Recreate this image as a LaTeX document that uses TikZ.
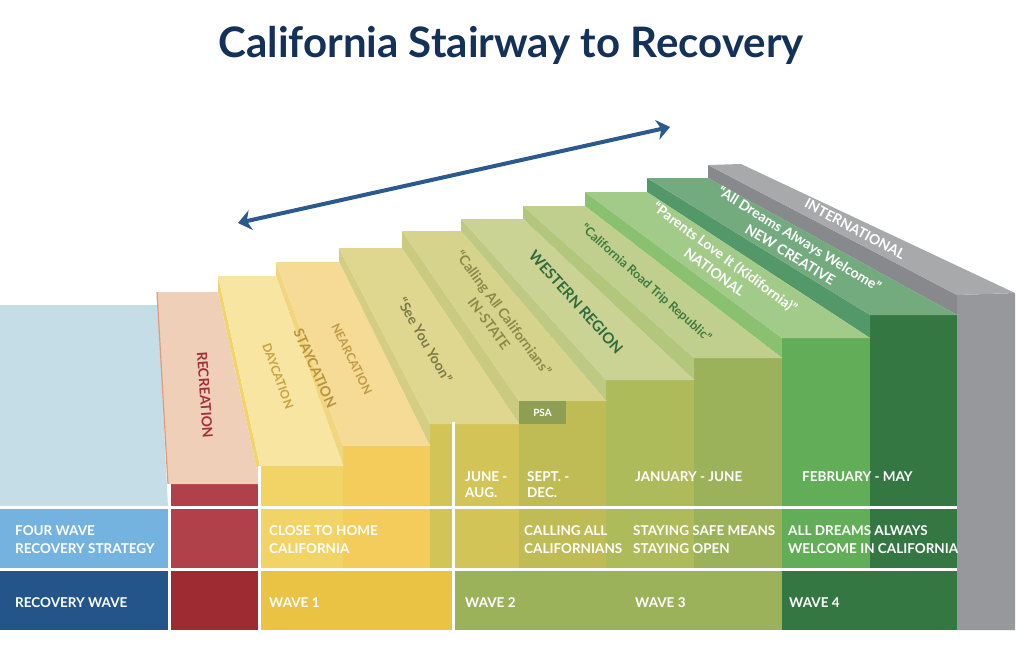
\documentclass[tikz,border=0pt]{standalone}
\usepackage{fontspec}
\setmainfont{Lato}
\usepackage{xcolor}
\usetikzlibrary{arrows.meta}

% colours
\definecolor{titleblue}{HTML}{14315A}
\definecolor{arrowblue}{HTML}{2A5A8E}
\definecolor{floorblue}{HTML}{C4DDE6}
\definecolor{stratblue}{HTML}{74B3E0}
\definecolor{wavenavy}{HTML}{23558A}
\definecolor{recred}{HTML}{B0414A}
\definecolor{recdark}{HTML}{9E2B31}
\definecolor{recedge}{HTML}{E0997A}
\definecolor{wavegold}{HTML}{EAC244}
\definecolor{waveolive}{HTML}{9CB25A}
\definecolor{wavegreen}{HTML}{357743}
\definecolor{intgray}{HTML}{97989C}
\definecolor{psagreen}{HTML}{8E9E52}
\definecolor{frontA}{HTML}{F2D366}
\definecolor{frontB}{HTML}{F3CC5C}
\definecolor{frontC}{HTML}{D2C456}
\definecolor{frontD}{HTML}{BFBB55}
\definecolor{frontE}{HTML}{AEBB5A}
\definecolor{frontF}{HTML}{62AD57}
\definecolor{treadA}{HTML}{EFCFB7}
\definecolor{treadB}{HTML}{F8E5A2}
\definecolor{treadC}{HTML}{F5DB96}
\definecolor{treadD}{HTML}{DFD78F}
\definecolor{treadE}{HTML}{D6D38C}
\definecolor{treadF}{HTML}{CAD394}
\definecolor{treadG}{HTML}{C0CE8E}
\definecolor{treadH}{HTML}{A2CB89}
\definecolor{treadI}{HTML}{73AB7F}
\definecolor{treadJ}{HTML}{A8A9AB}
\definecolor{sideA}{HTML}{F2D46C}
\definecolor{sideB}{HTML}{F1D57F}
\definecolor{sideC}{HTML}{D4CE82}
\definecolor{sideD}{HTML}{CACA80}
\definecolor{sideE}{HTML}{BEC983}
\definecolor{sideF}{HTML}{B2C77C}
\definecolor{sideG}{HTML}{89C170}
\definecolor{sideH}{HTML}{539868}
\definecolor{sideI}{HTML}{88898C}
\definecolor{rectext}{HTML}{A3303D}
\definecolor{daytext}{HTML}{C9A13F}
\definecolor{staytext}{HTML}{B8943F}
\definecolor{neartext}{HTML}{C09B46}
\definecolor{yoontext}{HTML}{7D7B45}
\definecolor{calltext}{HTML}{8B8A4B}
\definecolor{westtext}{HTML}{2F6B3C}
\definecolor{roadtext}{HTML}{3F7B40}

\begin{document}
\begin{tikzpicture}[x=1pt,y=-1pt,
    rowtext/.style={anchor=west,align=left,text=white,inner sep=0pt,font=\bfseries\fontsize{13.5}{17.5}\selectfont},
    datetext/.style={rowtext,font=\bfseries\fontsize{13.5}{16}\selectfont},
    steptext/.style={align=center,inner sep=0pt,font=\bfseries\fontsize{14}{18}\selectfont}]
    \useasboundingbox (0,0) rectangle (1024,655);

    % Title and arrow
    \node[text=titleblue,font=\bfseries\fontsize{42}{42}\selectfont,anchor=base] (title) at (511,58) {California Stairway to Recovery};
    \coordinate (arrowL) at (238,223);
    \coordinate (arrowR) at (670,127);
    \draw[arrowblue,line width=4pt,{Stealth[length=13pt,width=20pt,inset=4pt]}-{Stealth[length=13pt,width=20pt,inset=4pt]}] (arrowL) -- (arrowR);

    % Floor and left column
    \fill[floorblue] (0,305) -- (158,305) -- (168,507) -- (0,507) -- cycle;
    \fill[stratblue] (0,507) rectangle (169,570);
    \fill[wavenavy] (0,570) rectangle (169,630);

    % Step fronts
    \fill[recred] (168,484) rectangle (260,630);
    \fill[frontA] (260,466) rectangle (343,630);
    \fill[frontB] (343,446) rectangle (430,630);
    \fill[frontC] (430,424) rectangle (519,630);
    \fill[frontD] (519,401) rectangle (606,630);
    \fill[frontE] (606,380) rectangle (694,630);
    \fill[waveolive] (694,358) rectangle (782,630);
    \fill[frontF] (782,338) rectangle (870,630);
    \fill[wavegreen] (870,315) rectangle (957,630);
    \fill[intgray] (957,295) -- (1015,293) -- (1015,630) -- (957,630) -- cycle;

    % Step sides
    \fill[sideA] (218,292) -- (218,276) -- (260,466) -- (260,484) -- cycle;
    \fill[sideB] (276,276) -- (276,262) -- (343,446) -- (343,466) -- cycle;
    \fill[sideC] (339,262) -- (339,248) -- (430,424) -- (430,446) -- cycle;
    \fill[sideD] (402,248) -- (402,231) -- (519,401) -- (519,424) -- cycle;
    \fill[sideE] (461,231) -- (461,219) -- (606,380) -- (606,401) -- cycle;
    \fill[sideF] (523,219) -- (523,206) -- (694,358) -- (694,380) -- cycle;
    \fill[sideG] (585,206) -- (585,192) -- (782,338) -- (782,358) -- cycle;
    \fill[sideH] (647,192) -- (647,178) -- (870,315) -- (870,338) -- cycle;
    \fill[sideI] (708,178) -- (708,165) -- (957,295) -- (957,315) -- cycle;

    % Step treads
    \fill[treadA] (157,292) -- (218,292) -- (260,484) -- (168,484) -- cycle;
    \fill[treadB] (218,276) -- (276,276) -- (343,466) -- (260,466) -- cycle;
    \fill[treadC] (276,262) -- (339,262) -- (430,446) -- (343,446) -- cycle;
    \fill[treadD] (339,248) -- (402,248) -- (519,424) -- (430,424) -- cycle;
    \fill[treadE] (402,231) -- (461,231) -- (606,401) -- (519,401) -- cycle;
    \fill[treadF] (461,219) -- (523,219) -- (694,380) -- (606,380) -- cycle;
    \fill[treadG] (523,206) -- (585,206) -- (782,358) -- (694,358) -- cycle;
    \fill[treadH] (585,192) -- (647,192) -- (870,338) -- (782,338) -- cycle;
    \fill[treadI] (647,178) -- (708,178) -- (957,315) -- (870,315) -- cycle;
    \fill[treadJ] (708,165) -- (741,164) -- (1015,293) -- (957,295) -- cycle;
    \draw[recedge,line width=1.2pt] (157,292) -- (168,484);

    % PSA box
    \fill[psagreen] (519,401) rectangle (566,424);
    \node[text=white,font=\bfseries\fontsize{10}{12}\selectfont] (psa) at (542.5,412.5) {PSA};

    % Wave row
    \fill[recdark] (169,570) rectangle (259,630);
    \fill[wavegold] (259,570) rectangle (454,630);
    \fill[waveolive] (454,570) rectangle (782,630);
    \fill[wavegreen] (782,570) rectangle (957,630);

    % Grid lines
    \draw[white,line width=3pt] (0,507.5) -- (957,507.5);
    \draw[white,line width=3pt] (0,569.5) -- (957,569.5);
    \draw[white,line width=3pt] (169.5,484) -- (169.5,630);
    \draw[white,line width=3pt] (259,466) -- (259,630);
    \draw[white,line width=3pt] (453.5,422) -- (453.5,630);

    % Table text
    \node[rowtext] (strategy) at (15,539.5) {FOUR WAVE\\RECOVERY STRATEGY};
    \node[rowtext] (recwave) at (15,603) {RECOVERY WAVE};
    \node[rowtext] (closehome) at (269,539.5) {CLOSE TO HOME\\CALIFORNIA};
    \node[rowtext] (waveone) at (269,603) {WAVE 1};
    \node[datetext] (junaug) at (465,485) {JUNE -\\AUG.};
    \node[datetext] (sepdec) at (527,485) {SEPT. -\\DEC.};
    \node[rowtext] (janjun) at (635,477) {JANUARY - JUNE};
    \node[rowtext] (febmay) at (802,477) {FEBRUARY - MAY};
    \node[rowtext] (callall) at (524,539.5) {CALLING ALL\\CALIFORNIANS};
    \node[rowtext] (safeopen) at (633,539.5) {STAYING SAFE MEANS\\STAYING OPEN};
    \node[rowtext] (dreamswelcome) at (788,539.5) {ALL DREAMS ALWAYS\\WELCOME IN CALIFORNIA};
    \node[rowtext] (wavetwo) at (465,603) {WAVE 2};
    \node[rowtext] (wavethree) at (635,603) {WAVE 3};
    \node[rowtext] (wavefour) at (789,603) {WAVE 4};

    % Step labels
    \node[steptext,text=rectext,rotate=-86] (recreation) at (205,395) {RECREATION};
    \node[steptext,text=daytext,rotate=-70,font=\bfseries\fontsize{12}{14}\selectfont] (daycation) at (278,376) {DAYCATION};
    \node[steptext,text=staytext,rotate=-66] (staycation) at (315,368) {STAYCATION};
    \node[steptext,text=neartext,rotate=-64,font=\bfseries\fontsize{12}{14}\selectfont] (nearcation) at (352,359) {NEARCATION};
    \node[steptext,text=yoontext,rotate=-60] (yoon) at (425,340) {“See You Yoon”};
    \node[steptext,text=calltext,rotate=-53.5] (instate) at (496.5,318) {“Calling All Californians”\\IN-STATE};
    \node[steptext,text=westtext,rotate=-48,font=\bfseries\fontsize{15}{18}\selectfont] (western) at (576,302) {WESTERN REGION};
    \node[steptext,text=roadtext,rotate=-41.7,font=\bfseries\fontsize{12.5}{16}\selectfont] (roadtrip) at (646,283) {“California Road Trip Republic”};
    \node[steptext,text=white,rotate=-36.4] (national) at (720,264.5) {“Parents Love It (Kidifornia)”\\NATIONAL};
    \node[steptext,text=white,rotate=-31.4] (creative) at (795,246.5) {“All Dreams Always Welcome”\\NEW CREATIVE};
    \node[steptext,text=white,rotate=-28.4] (international) at (855,229) {INTERNATIONAL};
\end{tikzpicture}
\end{document}
